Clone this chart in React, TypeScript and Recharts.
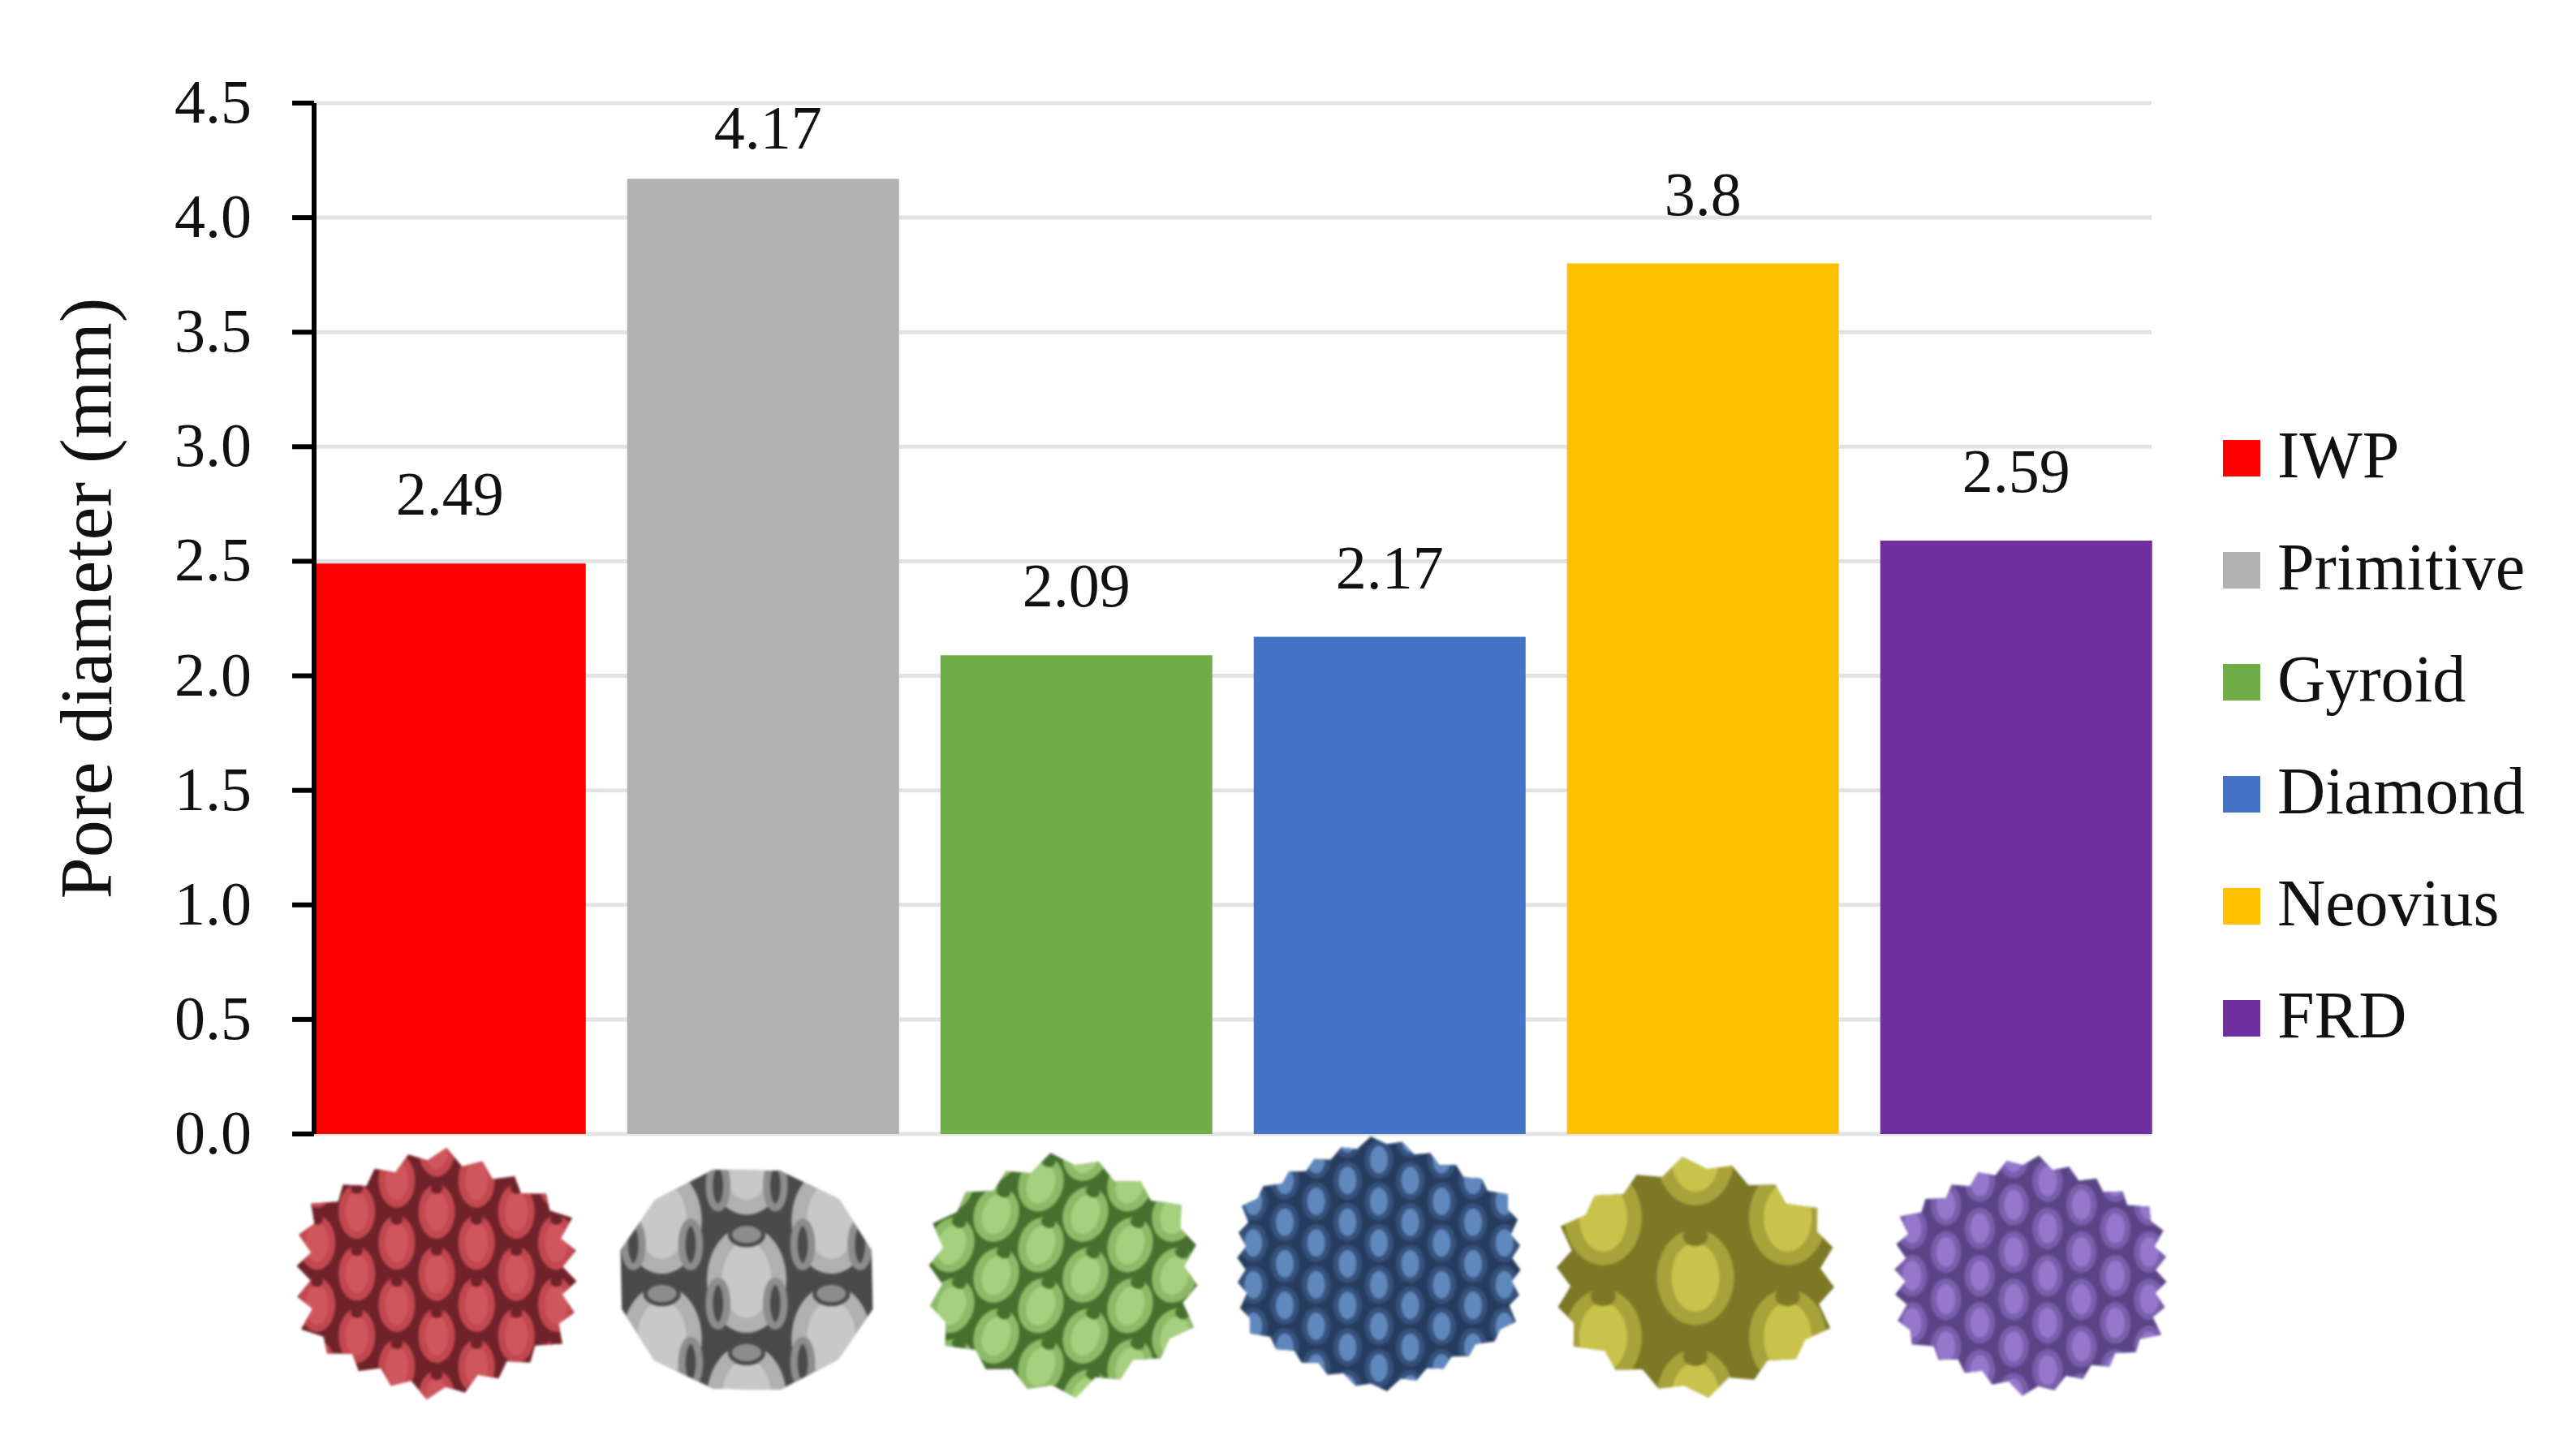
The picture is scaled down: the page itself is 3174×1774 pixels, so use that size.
import React from "react";
import { BarChart, Bar, Cell, XAxis, YAxis, CartesianGrid, LabelList, Legend } from "recharts";

const categories = ["IWP", "Primitive", "Gyroid", "Diamond", "Neovius", "FRD"];
const poreDiameters = [2.49, 4.17, 2.09, 2.17, 3.8, 2.59];
const barColors = ["#ff0000", "#b2b2b2", "#70ad47", "#4472c4", "#ffc000", "#7030a0"];
const yTicks = [0, 0.5, 1, 1.5, 2, 2.5, 3, 3.5, 4, 4.5];
const labelLift = [60, 37, 60, 60, 60, 60];
const labelShift = [0, 6, 0, 0, 0, 0];

const thumbs = [
  { dx: -16, top: 19, w: 344, h: 306, base: "#c2474f", dark: "#6f2229", light: "#d0565e", cols: 7, rows: 4, fillX: 0.46, fillY: 0.44, spikes: 24, spike: 0.05, rot: 0, rings: false, dots: true },
  { dx: -20, top: 34, w: 313, h: 291, base: "#b0b0b0", dark: "#4a4a4a", light: "#c8c8c8", cols: 3, rows: 2, fillX: 0.47, fillY: 0.45, spikes: 6, spike: 0.005, rot: 0, rings: true, dots: false },
  { dx: -16, top: 24, w: 330, h: 300, base: "#8dba66", dark: "#47702f", light: "#a6d07e", cols: 6, rows: 4, fillX: 0.5, fillY: 0.46, spikes: 18, spike: 0.05, rot: 18, rings: false, dots: true },
  { dx: -13, top: 6, w: 348, h: 308, base: "#36517b", dark: "#263c5e", light: "#5f88bd", cols: 9, rows: 6, fillX: 0.46, fillY: 0.46, spikes: 30, spike: 0.03, rot: 0, rings: false, dots: false },
  { dx: -9, top: 29, w: 341, h: 295, base: "#a8a23a", dark: "#7c7826", light: "#c9c34c", cols: 3, rows: 2, fillX: 0.42, fillY: 0.4, spikes: 18, spike: 0.05, rot: 0, rings: false, dots: true },
  { dx: 18, top: 29, w: 334, h: 291, base: "#7a5eac", dark: "#5a4486", light: "#9578cb", cols: 8, rows: 5, fillX: 0.45, fillY: 0.44, spikes: 28, spike: 0.04, rot: 0, rings: false, dots: false },
];

const SERIF = "'Liberation Serif', serif";
const data = categories.map((name, i) => ({ name, value: poreDiameters[i] }));

function silhouette(t: any) {
  const pts: string[] = [];
  const n = t.spikes * 2;
  for (let k = 0; k < n; k++) {
    const a = (k / n) * Math.PI * 2 + Math.PI / n;
    const r = k % 2 === 0 ? 1 : 1 - t.spike * 2;
    const c = Math.cos(a);
    const s = Math.sin(a);
    const hex = Math.max(
      Math.abs(c),
      Math.abs(c * 0.5 + s * 0.866),
      Math.abs(c * 0.5 - s * 0.866)
    );
    const m = 0.866 / hex;
    const round = 0.72 * m + 0.28;
    pts.push(`${(t.w / 2) * (round / 0.9) * r * c},${(t.h / 2) * (round / 0.96) * r * s}`);
  }
  return pts.join(" ");
}

function ThumbTick(props: any) {
  const { x, y, index } = props;
  const t = thumbs[index];
  if (!t) return null;
  const cx = x + t.dx;
  const cy = y + t.top + t.h / 2;
  const id = `clip-${index}`;
  const sx = t.w / t.cols;
  const sy = t.h / t.rows;
  const marks: React.ReactNode[] = [];
  for (let c = -1; c < t.cols + 1; c++) {
    const stagger = ((c % 2) + 2) % 2 === 1 ? 0.5 : 0;
    for (let r = -1; r < t.rows + 1; r++) {
      const px = (c + 0.5) * sx - t.w / 2;
      const py = (r + 0.5 + stagger) * sy - t.h / 2;
      const rx = t.fillX * sx;
      const ry = t.fillY * sy;
      marks.push(
        <g key={`${r}-${c}`} transform={`translate(${px},${py}) rotate(${t.rot})`}>
          <ellipse rx={rx} ry={ry} fill={t.base} />
          <ellipse rx={rx * 0.62} ry={ry * 0.72} fill={t.light} />
          {t.dots && <ellipse cy={-ry * 0.85} rx={rx * 0.32} ry={ry * 0.2} fill={t.dark} />}
          {t.rings && (
            <>
              <ellipse cy={-ry * 0.85} rx={rx * 0.42} ry={ry * 0.2} fill="#8d8d8d" stroke={t.dark} strokeWidth={5} />
              <ellipse cx={-rx * 0.72} cy={ry * 0.45} rx={rx * 0.22} ry={ry * 0.42} fill={t.dark} stroke="#8d8d8d" strokeWidth={9} />
              <ellipse cx={rx * 0.72} cy={ry * 0.45} rx={rx * 0.22} ry={ry * 0.42} fill={t.dark} stroke="#8d8d8d" strokeWidth={9} />
            </>
          )}
        </g>
      );
    }
  }
  return (
    <g transform={`translate(${cx},${cy})`} style={{ filter: "blur(1.5px)" }}>
      <defs>
        <clipPath id={id}>
          <polygon points={silhouette(t)} />
        </clipPath>
      </defs>
      <polygon points={silhouette(t)} fill={t.dark} />
      <g clipPath={`url(#${id})`}>{marks}</g>
    </g>
  );
}

function YTitle() {
  return (
    <text
      transform="translate(137,737) rotate(-90)"
      textAnchor="middle"
      fontFamily={SERIF}
      fontSize={92}
      fill="#111"
    >
      Pore diameter (mm)
    </text>
  );
}

function YTick(props: any) {
  const { x, y, payload } = props;
  return (
    <text x={x} y={y + 24} textAnchor="end" fontFamily={SERIF} fontSize={76} fill="#111">
      {Number(payload.value).toFixed(1)}
    </text>
  );
}

function BarLabel(props: any) {
  const { x, y, width, value, index } = props;
  return (
    <text
      x={x + width / 2 + labelShift[index]}
      y={y - labelLift[index]}
      textAnchor="middle"
      fontFamily={SERIF}
      fontSize={76}
      fill="#111"
    >
      {value}
    </text>
  );
}

function LegendBox() {
  return (
    <div style={{ position: "relative", width: 420, height: 830 }}>
      {categories.map((c, i) => (
        <div
          key={c}
          style={{
            position: "absolute",
            left: 0,
            top: 138 * i,
            height: 60,
            display: "flex",
            alignItems: "center",
            fontFamily: SERIF,
            fontSize: 82,
            color: "#111",
            whiteSpace: "nowrap",
          }}
        >
          <span style={{ display: "inline-block", width: 46, height: 45, background: barColors[i], marginRight: 21 }} />
          <span style={{ position: "relative", top: -3 }}>{c}</span>
        </div>
      ))}
    </div>
  );
}

export default function App() {
  return (
    <div style={{ position: "absolute", left: 0, top: 0, width: 3174, height: 1774, background: "#fff" }}>
      <BarChart
        width={3174}
        height={1774}
        data={data}
        margin={{ top: 127, right: 103, bottom: 0, left: 0 }}
        barCategoryGap={25.75}
      >
        <CartesianGrid horizontal vertical={false} stroke="#e3e3e3" strokeWidth={5} />
        <XAxis
          dataKey="name"
          height={377}
          interval={0}
          axisLine={false}
          tickLine={false}
          tickSize={0}
          tickMargin={0}
          padding={{ left: -26, right: -26 }}
          tick={<ThumbTick />}
        />
        <YAxis
          width={387}
          domain={[0, 4.5]}
          ticks={yTicks}
          interval={0}
          axisLine={{ stroke: "#000", strokeWidth: 6 }}
          tickLine={{ stroke: "#000", strokeWidth: 6 }}
          tickSize={27}
          tickMargin={50}
          tick={<YTick />}
          label={<YTitle />}
        />
        <Bar dataKey="value" isAnimationActive={false}>
          {categories.map((c, i) => (
            <Cell key={c} fill={barColors[i]} />
          ))}
          <LabelList dataKey="value" content={<BarLabel />} />
        </Bar>
        <Legend
          layout="vertical"
          align="right"
          verticalAlign="middle"
          width={420}
          content={<LegendBox />}
          wrapperStyle={{ position: "absolute", left: 2739, top: 534, right: "auto", bottom: "auto", width: 420, height: 830 }}
        />
      </BarChart>
    </div>
  );
}
